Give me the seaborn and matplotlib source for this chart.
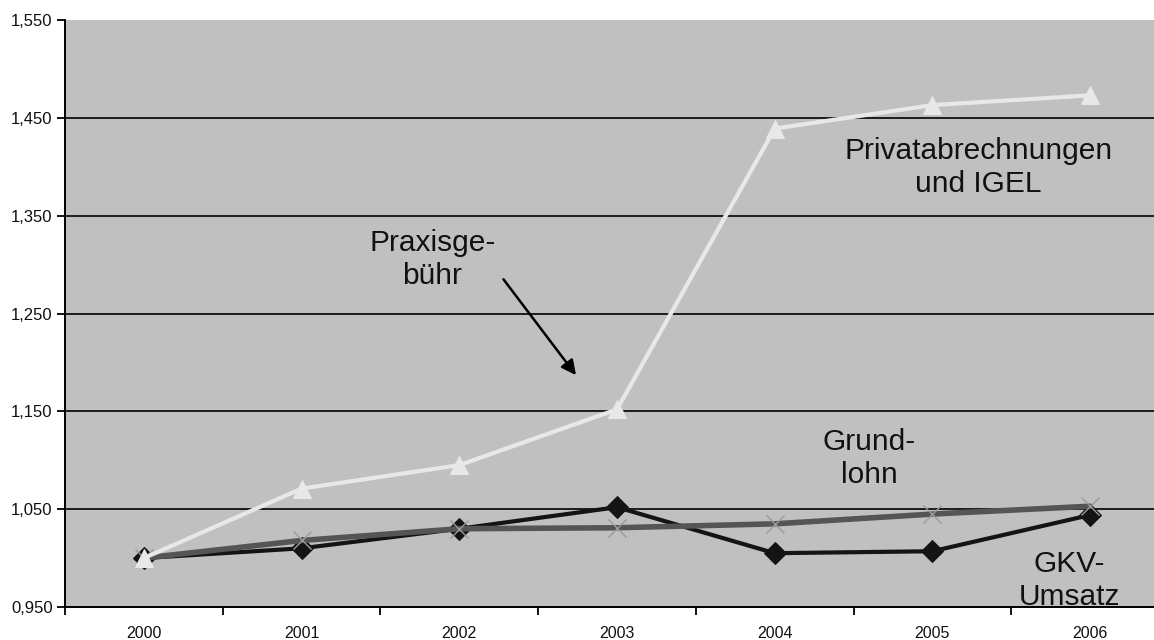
import matplotlib
matplotlib.use("Agg")
import matplotlib.pyplot as plt
import seaborn as sns
import pandas as pd
import numpy as np

# ---- data ----
years = [2000, 2001, 2002, 2003, 2004, 2005, 2006]
gkv_umsatz = [1.000, 1.010, 1.030, 1.052, 1.005, 1.007, 1.044]
grundlohn = [1.000, 1.018, 1.030, 1.031, 1.035, 1.045, 1.053]
privat_igel = [1.000, 1.071, 1.095, 1.152, 1.439, 1.463, 1.473]
yticks = [0.95, 1.05, 1.15, 1.25, 1.35, 1.45, 1.55]
ytick_labels = ["0,950", "1,050", "1,150", "1,250", "1,350", "1,450", "1,550"]
year_labels = ["2000", "2001", "2002", "2003", "2004", "2005", "2006"]

sns.set_style("white")
plt.rcParams["font.family"] = ["Liberation Sans", "DejaVu Sans"]

fig = plt.figure(figsize=(11.54, 6.40), dpi=100)
W, H = 1154, 640
left_px, right_px, top_px, bottom_px = 65, 1169, 20, 607
ax = fig.add_axes([left_px / W, 1 - bottom_px / H,
                   (right_px - left_px) / W, (bottom_px - top_px) / H])
ax.set_facecolor("#c0c0c0")

df = pd.DataFrame({"year": years, "gkv": gkv_umsatz,
                   "grund": grundlohn, "privat": privat_igel})

sns.lineplot(data=df, x="year", y="gkv", ax=ax, color="#141414", lw=3.0,
             marker="D", markersize=11, markeredgecolor="#141414", zorder=3)
sns.lineplot(data=df, x="year", y="grund", ax=ax, color="#555555", lw=4.0,
             marker="x", markersize=13, markeredgewidth=1.0,
             markeredgecolor="#9a9a9a", zorder=4)
sns.lineplot(data=df, x="year", y="privat", ax=ax, color="#e8e8e8", lw=3.0,
             marker="^", markersize=13, markeredgecolor="#e8e8e8",
             markerfacecolor="#e8e8e8", zorder=5)

ax.set_xlim(years[0] - 0.5, years[-1] + 0.5)
ax.set_ylim(yticks[0], yticks[-1])
ax.set_yticks(yticks)
ax.set_yticklabels(ytick_labels)

# category boundaries as major ticks, labels on minor ticks
ax.set_xticks(np.array(years + [years[-1] + 1]) - 0.5)
ax.set_xticklabels([])
ax.set_xticks(years, minor=True)
ax.set_xticklabels(year_labels, minor=True)
ax.tick_params(axis="x", which="major", direction="out", length=6, width=1.3,
               color="black", bottom=True)
ax.tick_params(axis="x", which="minor", length=0, pad=14, labelsize=11.5,
               labelcolor="#111111")
ax.tick_params(axis="y", direction="out", length=6, width=1.3, color="black",
               left=True, pad=3, labelsize=12, labelcolor="#111111")

ax.set_xlabel("")
ax.set_ylabel("")
ax.yaxis.grid(True, color="black", lw=1.2)
ax.xaxis.grid(False)
ax.set_axisbelow(True)
ax.get_ygridlines()[-1].set_visible(False)

for s in ["top", "right"]:
    ax.spines[s].set_visible(False)
for s in ["left", "bottom"]:
    ax.spines[s].set_color("black")
    ax.spines[s].set_linewidth(1.4)

fs = 21.5
kw = dict(ha="center", va="center", fontsize=fs, color="#111111",
          linespacing=1.25, zorder=6)
ax.text(2001.83, 1.305, "Praxisge-\nbühr", **kw)
ax.text(2005.29, 1.399, "Privatabrechnungen\nund IGEL", **kw)
ax.text(2004.60, 1.102, "Grund-\nlohn", **kw)
ax.text(2005.87, 0.977, "GKV-\nUmsatz", **kw)

ax.annotate("", xy=(2002.74, 1.187), xytext=(2002.28, 1.285),
            arrowprops=dict(arrowstyle="-|>", color="black", lw=1.8,
                            mutation_scale=22, shrinkA=0, shrinkB=0),
            zorder=6)

fig.savefig("out.png", dpi=100)
